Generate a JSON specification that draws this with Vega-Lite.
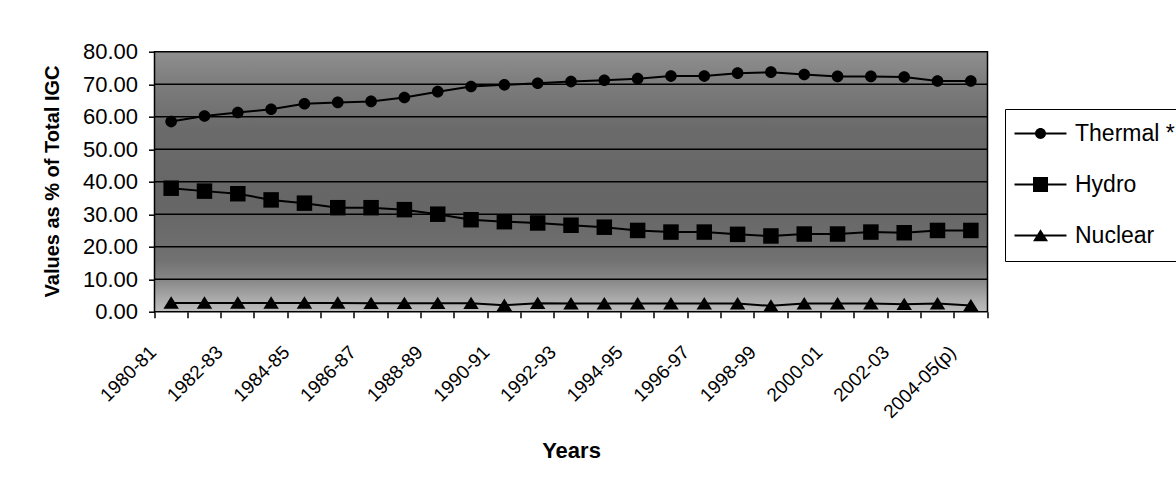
{
  "$schema": "https://vega.github.io/schema/vega-lite/v6.json",
  "width": 833,
  "height": 260,
  "autosize": {"type": "none"},
  "padding": {"left": 154.5, "top": 51.7, "right": 188.5, "bottom": 174.3},
  "background": "white",
  "config": {
    "view": {"stroke": null},
    "font": "Liberation Sans",
    "axis": {"labelFont": "Liberation Sans", "titleFont": "Liberation Sans", "labelColor": "black", "titleColor": "black", "tickColor": "black", "domainColor": "black"},
    "legend": {"labelFont": "Liberation Sans"}
  },
  "data": {
    "values": [
      {"year": "1980-81", "series": "Thermal *", "value": 58.5},
      {"year": "1981-82", "series": "Thermal *", "value": 60.2},
      {"year": "1982-83", "series": "Thermal *", "value": 61.3},
      {"year": "1983-84", "series": "Thermal *", "value": 62.3},
      {"year": "1984-85", "series": "Thermal *", "value": 64.0},
      {"year": "1985-86", "series": "Thermal *", "value": 64.4},
      {"year": "1986-87", "series": "Thermal *", "value": 64.7},
      {"year": "1987-88", "series": "Thermal *", "value": 65.9},
      {"year": "1988-89", "series": "Thermal *", "value": 67.7},
      {"year": "1989-90", "series": "Thermal *", "value": 69.3},
      {"year": "1990-91", "series": "Thermal *", "value": 69.8},
      {"year": "1991-92", "series": "Thermal *", "value": 70.3},
      {"year": "1992-93", "series": "Thermal *", "value": 70.8},
      {"year": "1993-94", "series": "Thermal *", "value": 71.2},
      {"year": "1994-95", "series": "Thermal *", "value": 71.7},
      {"year": "1995-96", "series": "Thermal *", "value": 72.5},
      {"year": "1996-97", "series": "Thermal *", "value": 72.5},
      {"year": "1997-98", "series": "Thermal *", "value": 73.4},
      {"year": "1998-99", "series": "Thermal *", "value": 73.7},
      {"year": "1999-00", "series": "Thermal *", "value": 73.0},
      {"year": "2000-01", "series": "Thermal *", "value": 72.4},
      {"year": "2001-02", "series": "Thermal *", "value": 72.4},
      {"year": "2002-03", "series": "Thermal *", "value": 72.2},
      {"year": "2003-04", "series": "Thermal *", "value": 71.0},
      {"year": "2004-05(p)", "series": "Thermal *", "value": 71.0},
      {"year": "1980-81", "series": "Hydro", "value": 38.0},
      {"year": "1981-82", "series": "Hydro", "value": 37.1},
      {"year": "1982-83", "series": "Hydro", "value": 36.3},
      {"year": "1983-84", "series": "Hydro", "value": 34.4},
      {"year": "1984-85", "series": "Hydro", "value": 33.4},
      {"year": "1985-86", "series": "Hydro", "value": 32.0},
      {"year": "1986-87", "series": "Hydro", "value": 32.0},
      {"year": "1987-88", "series": "Hydro", "value": 31.4},
      {"year": "1988-89", "series": "Hydro", "value": 30.0},
      {"year": "1989-90", "series": "Hydro", "value": 28.3},
      {"year": "1990-91", "series": "Hydro", "value": 27.7},
      {"year": "1991-92", "series": "Hydro", "value": 27.3},
      {"year": "1992-93", "series": "Hydro", "value": 26.6},
      {"year": "1993-94", "series": "Hydro", "value": 26.0},
      {"year": "1994-95", "series": "Hydro", "value": 25.0},
      {"year": "1995-96", "series": "Hydro", "value": 24.5},
      {"year": "1996-97", "series": "Hydro", "value": 24.5},
      {"year": "1997-98", "series": "Hydro", "value": 23.8},
      {"year": "1998-99", "series": "Hydro", "value": 23.3},
      {"year": "1999-00", "series": "Hydro", "value": 23.9},
      {"year": "2000-01", "series": "Hydro", "value": 23.9},
      {"year": "2001-02", "series": "Hydro", "value": 24.5},
      {"year": "2002-03", "series": "Hydro", "value": 24.3},
      {"year": "2003-04", "series": "Hydro", "value": 25.0},
      {"year": "2004-05(p)", "series": "Hydro", "value": 25.0},
      {"year": "1980-81", "series": "Nuclear", "value": 2.7},
      {"year": "1981-82", "series": "Nuclear", "value": 2.7},
      {"year": "1982-83", "series": "Nuclear", "value": 2.7},
      {"year": "1983-84", "series": "Nuclear", "value": 2.7},
      {"year": "1984-85", "series": "Nuclear", "value": 2.7},
      {"year": "1985-86", "series": "Nuclear", "value": 2.7},
      {"year": "1986-87", "series": "Nuclear", "value": 2.6},
      {"year": "1987-88", "series": "Nuclear", "value": 2.6},
      {"year": "1988-89", "series": "Nuclear", "value": 2.6},
      {"year": "1989-90", "series": "Nuclear", "value": 2.6},
      {"year": "1990-91", "series": "Nuclear", "value": 2.0},
      {"year": "1991-92", "series": "Nuclear", "value": 2.6},
      {"year": "1992-93", "series": "Nuclear", "value": 2.5},
      {"year": "1993-94", "series": "Nuclear", "value": 2.5},
      {"year": "1994-95", "series": "Nuclear", "value": 2.5},
      {"year": "1995-96", "series": "Nuclear", "value": 2.5},
      {"year": "1996-97", "series": "Nuclear", "value": 2.5},
      {"year": "1997-98", "series": "Nuclear", "value": 2.5},
      {"year": "1998-99", "series": "Nuclear", "value": 1.8},
      {"year": "1999-00", "series": "Nuclear", "value": 2.5},
      {"year": "2000-01", "series": "Nuclear", "value": 2.5},
      {"year": "2001-02", "series": "Nuclear", "value": 2.5},
      {"year": "2002-03", "series": "Nuclear", "value": 2.3},
      {"year": "2003-04", "series": "Nuclear", "value": 2.5},
      {"year": "2004-05(p)", "series": "Nuclear", "value": 1.9}
    ]
  },
  "layer": [
    {
      "data": {"values": [{"lo": 0, "hi": 80}]},
      "mark": {
        "type": "rect",
        "fill": {
          "gradient": "linear", "x1": 0, "y1": 0, "x2": 0, "y2": 1,
          "stops": [
            {"offset": 0, "color": "#8f8f8f"},
            {"offset": 0.12, "color": "#7d7d7d"},
            {"offset": 0.3, "color": "#6a6a6a"},
            {"offset": 0.6, "color": "#666666"},
            {"offset": 0.8, "color": "#717171"},
            {"offset": 0.88, "color": "#888888"},
            {"offset": 0.95, "color": "#aaaaaa"},
            {"offset": 1, "color": "#bdbdbd"}
          ]
        },
        "stroke": "black",
        "strokeWidth": 1.5
      },
      "encoding": {
        "y": {
          "field": "lo", "type": "quantitative",
          "scale": {"domain": [0, 80], "nice": false, "zero": false},
          "axis": {
            "orient": "left", "domain": false, "grid": false,
            "values": [0, 10, 20, 30, 40, 50, 60, 70, 80], "format": ".2f",
            "tickSize": 6, "tickWidth": 1.5, "labelPadding": 11, "labelFontSize": 22,
            "labelOverlap": false, "labelFlush": false,
            "title": "Values as % of Total IGC", "titleFontSize": 20, "titleFontWeight": "bold",
            "titleX": -102.5, "titleY": 129.3, "titleAngle": -90, "titleAlign": "center", "titleBaseline": "middle"
          }
        },
        "y2": {"field": "hi"}
      }
    },
    {
      "data": {"values": [{"g": 10}, {"g": 20}, {"g": 30}, {"g": 40}, {"g": 50}, {"g": 60}, {"g": 70}]},
      "mark": {"type": "rule", "color": "black", "strokeWidth": 1.5},
      "encoding": {
        "y": {
          "field": "g", "type": "quantitative",
          "axis": {
            "orient": "left", "domain": false, "grid": false,
            "values": [0, 10, 20, 30, 40, 50, 60, 70, 80], "format": ".2f",
            "tickSize": 6, "tickWidth": 1.5, "labelPadding": 11, "labelFontSize": 22,
            "labelOverlap": false, "labelFlush": false,
            "title": "Values as % of Total IGC", "titleFontSize": 20, "titleFontWeight": "bold",
            "titleX": -102.5, "titleY": 129.3, "titleAngle": -90, "titleAlign": "center", "titleBaseline": "middle"
          }
        }
      }
    },
    {
      "mark": {"type": "line", "color": "black", "strokeWidth": 2},
      "encoding": {
        "x": {
          "field": "year", "type": "ordinal", "sort": null,
          "scale": {"type": "band", "paddingInner": 0, "paddingOuter": 0},
          "axis": {
            "orient": "bottom", "domain": false, "grid": false,
            "bandPosition": 1, "tickExtra": true, "ticks": true, "tickSize": 6, "tickWidth": 1.5,
            "labelAngle": -45, "labelAlign": "right", "labelBaseline": "middle",
            "labelPadding": 31, "labelOffset": -18, "labelFontSize": 19,
            "labelOverlap": false, "labelFlush": false,
            "labelExpr": "isString(datum.value) && (indexof(['1980-81','1982-83','1984-85','1986-87','1988-89','1990-91','1992-93','1994-95','1996-97','1998-99','2000-01','2002-03','2004-05(p)'], datum.value) >= 0) ? datum.label : ''",
            "title": "Years", "titleFontSize": 22, "titleFontWeight": "bold",
            "titleX": 416.5, "titleY": 139, "titleAlign": "center", "titleBaseline": "middle", "titleAngle": 0
          }
        },
        "y": {
          "field": "value", "type": "quantitative",
          "axis": {
            "orient": "left", "domain": false, "grid": false,
            "values": [0, 10, 20, 30, 40, 50, 60, 70, 80], "format": ".2f",
            "tickSize": 6, "tickWidth": 1.5, "labelPadding": 11, "labelFontSize": 22,
            "labelOverlap": false, "labelFlush": false,
            "title": "Values as % of Total IGC", "titleFontSize": 20, "titleFontWeight": "bold",
            "titleX": -102.5, "titleY": 129.3, "titleAngle": -90, "titleAlign": "center", "titleBaseline": "middle"
          }
        },
        "detail": {"field": "series"}
      }
    },
    {
      "mark": {"type": "point", "filled": true, "fill": "black", "opacity": 1, "size": 240, "strokeWidth": 0},
      "encoding": {
        "x": {"field": "year", "type": "ordinal", "sort": null},
        "y": {
          "field": "value", "type": "quantitative",
          "axis": {
            "orient": "left", "domain": false, "grid": false,
            "values": [0, 10, 20, 30, 40, 50, 60, 70, 80], "format": ".2f",
            "tickSize": 6, "tickWidth": 1.5, "labelPadding": 11, "labelFontSize": 22,
            "labelOverlap": false, "labelFlush": false,
            "title": "Values as % of Total IGC", "titleFontSize": 20, "titleFontWeight": "bold",
            "titleX": -102.5, "titleY": 129.3, "titleAngle": -90, "titleAlign": "center", "titleBaseline": "middle"
          }
        },
        "shape": {
          "field": "series", "type": "nominal",
          "scale": {
            "domain": ["Thermal *", "Hydro", "Nuclear"],
            "range": [
              "M-0.75,0A0.75,0.75,0,1,1,0.75,0A0.75,0.75,0,1,1,-0.75,0Z",
              "M-1,-1H1V1H-1Z",
              "M0,-0.85L1,0.75H-1Z"
            ]
          },
          "legend": null
        }
      }
    },
    {
      "transform": [{"filter": "false"}],
      "mark": {"type": "point", "filled": true, "fill": "black", "opacity": 1, "size": 225, "strokeWidth": 0},
      "encoding": {
        "shape": {
          "field": "series", "type": "nominal",
          "scale": {
            "domain": ["Thermal *", "Hydro", "Nuclear"],
            "range": [
              "M-2,-0.13H4.93V0.13H-2ZM0.74,0A0.73,0.73,0,1,1,2.2,0A0.73,0.73,0,1,1,0.74,0Z",
              "M-2,-0.13H4.93V0.13H-2ZM0.47,-1H2.47V1H0.47Z",
              "M-2,-0.13H4.93V0.13H-2ZM1.47,-0.85L2.47,0.75H0.47Z"
            ]
          },
          "legend": {
            "orient": "none", "legendX": 850.5, "legendY": 57.3,
            "title": null, "padding": 13, "rowPadding": 27,
            "strokeColor": "black", "fillColor": "white",
            "symbolSize": 225, "symbolFillColor": "black", "symbolOpacity": 1,
            "labelFontSize": 23, "labelColor": "black", "labelOffset": 34, "labelLimit": 400
          }
        }
      }
    }
  ],
  "resolve": {
    "scale": {"shape": "independent"},
    "legend": {"shape": "independent"}
  }
}
